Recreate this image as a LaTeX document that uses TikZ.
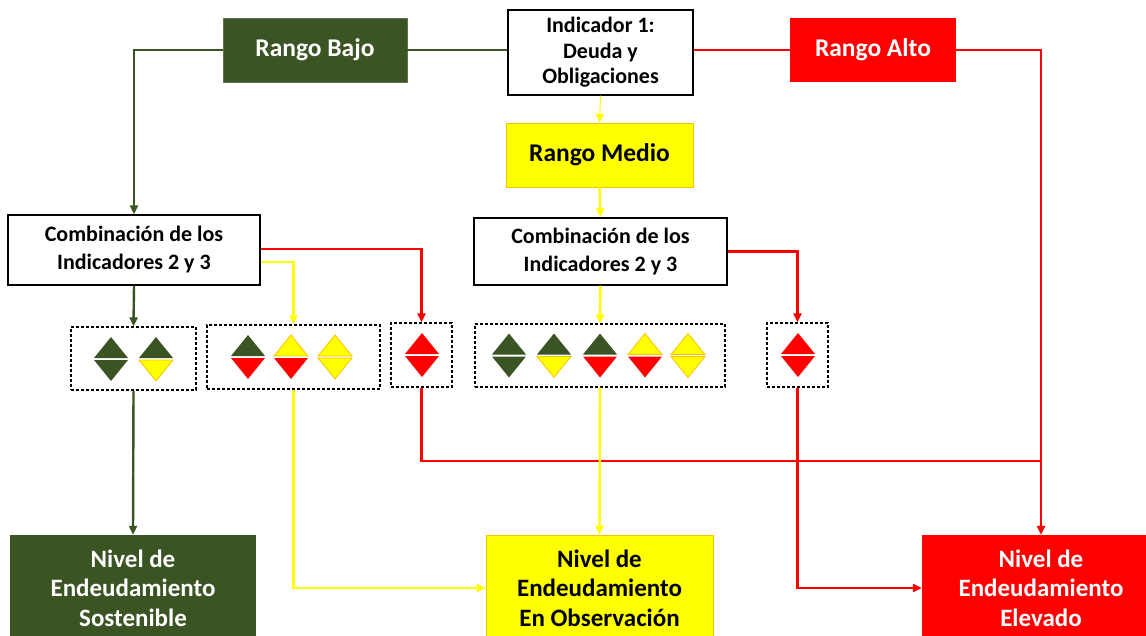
\documentclass[tikz,border=0pt]{standalone}
\usepackage{fontspec}
\setmainfont{Carlito}
\usetikzlibrary{arrows.meta}
\definecolor{verde}{RGB}{58,84,36}
\definecolor{rojo}{RGB}{255,0,0}
\definecolor{amarillo}{RGB}{255,255,0}
\definecolor{borde}{RGB}{255,192,0}
\begin{document}
\begin{tikzpicture}[
			x=1pt, y=-1pt,
			caja/.style={draw, line width=1.3pt, align=center, inner sep=0pt, text=black},
			rango/.style={align=center, inner sep=0pt, minimum height=64pt, font=\fontsize{25.5}{30}\selectfont\bfseries},
			nivel/.style={align=center, inner sep=0pt, minimum height=106pt, font=\fontsize{25}{29.5}\selectfont\bfseries},
			grupo/.style={draw, dashed, line width=1.2pt, dash pattern=on 3pt off 2pt, inner sep=0pt},
			flecha/.style={line width=2.4pt, -{Triangle[length=9pt,width=8pt]}},
			linea/.style={line width=2.4pt},
			triverde/.style={fill=verde},
			triamarillo/.style={fill=amarillo, draw=borde, line width=0.8pt},
			trirojo/.style={fill=rojo},
			pics/rombo/.style 2 args={code={
						\path[#1] (-17,-1) -- (17,-1) -- (0,-22) -- cycle;
						\path[#2] (-17,1) -- (17,1) -- (0,22) -- cycle;
					}}
		]
		\useasboundingbox (0,0) rectangle (1146,635);
		% primer nivel
		\node[caja, minimum width=185pt, minimum height=85pt, font=\fontsize{22}{25.5}\selectfont\bfseries] (ind) at (600.5,52.5) {Indicador 1:\\Deuda y\\Obligaciones};
		\node[rango, fill=verde, draw=verde!80!white, text=white, minimum width=184pt] (bajo) at (315,50) {Rango Bajo};
		\node[rango, fill=rojo, text=white, minimum width=166pt] (alto) at (873,50) {Rango Alto};
		\node[rango, fill=amarillo, draw=borde, minimum width=187pt] (medio) at (599.5,155) {Rango Medio};
		% combinaciones
		\node[caja, minimum width=252pt, minimum height=70pt, font=\fontsize{22}{28}\selectfont\bfseries] (comb1) at (134,250) {Combinación de los\\Indicadores 2 y 3};
		\node[caja, minimum width=253pt, minimum height=67pt, font=\fontsize{22}{28}\selectfont\bfseries] (comb2) at (600.5,251.5) {Combinación de los\\Indicadores 2 y 3};
		% grupos de rombos
		\node[grupo, minimum width=125pt, minimum height=63pt] (g1) at (133.5,358.5) {};
		\node[grupo, minimum width=173pt, minimum height=64pt] (g2) at (293.5,357) {};
		\node[grupo, minimum width=61pt, minimum height=64pt] (g3) at (421.5,355) {};
		\node[grupo, minimum width=250pt, minimum height=63pt] (g4) at (600,355.5) {};
		\node[grupo, minimum width=61pt, minimum height=64pt] (g5) at (797.5,355) {};
		\pic at (111,359) {rombo={triverde}{triverde}};
		\pic at (156,359) {rombo={triverde}{triamarillo}};
		\pic at (248,357) {rombo={triverde}{trirojo}};
		\pic at (291,357) {rombo={triamarillo}{trirojo}};
		\pic at (335,357) {rombo={triamarillo}{triamarillo}};
		\pic at (422,355) {rombo={trirojo}{trirojo}};
		\pic at (509,355.5) {rombo={triverde}{triverde}};
		\pic at (554,355.5) {rombo={triverde}{triamarillo}};
		\pic at (600,355.5) {rombo={triverde}{trirojo}};
		\pic at (645,355.5) {rombo={triamarillo}{trirojo}};
		\pic at (688,355.5) {rombo={triamarillo}{triamarillo}};
		\pic at (798,355) {rombo={trirojo}{trirojo}};
		% niveles
		\node[nivel, fill=verde, text=white, minimum width=246pt] (sost) at (133,588) {Nivel de\\Endeudamiento\\Sostenible};
		\node[nivel, fill=amarillo, draw=borde, minimum width=227pt] (obs) at (599.5,588) {Nivel de\\Endeudamiento\\En Observación};
		\node[nivel, fill=rojo, text=white, minimum width=238pt] (elev) at (1041,588) {Nivel de\\Endeudamiento\\Elevado};
		\coordinate (union) at (elev.north |- 0,461);
		% conectores
		\draw[linea, verde] (bajo.east) -- (bajo.east -| ind.west);
		\draw[flecha, verde] (bajo.west) -| (comb1.north);
		\draw[linea, rojo] (alto.west -| ind.east) -- (alto.west);
		\draw[flecha, rojo] (alto.east) -| (elev.north);
		\draw[flecha, amarillo, line width=1pt] (ind.south) -- (medio.north);
		\draw[flecha, amarillo] (medio.south) -- (comb2.north);
		\draw[flecha, rojo] ([yshift=1pt]comb1.east) -| (g3.north);
		\draw[flecha, amarillo] ([yshift=-12pt]comb1.east) -| (g2.north);
		\draw[flecha, verde] (comb1.south) -- (g1.north);
		\draw[flecha, rojo] (comb2.east) -| (g5.north);
		\draw[flecha, amarillo] (comb2.south) -- (g4.north);
		\draw[flecha, verde] (g1.south) -- (sost.north);
		\draw[flecha, amarillo] (g2.south) |- (obs.west);
		\draw[linea, rojo] (g3.south) |- (union);
		\draw[flecha, amarillo] (g4.south) -- (obs.north);
		\draw[flecha, rojo] (g5.south) |- (elev.west);
	\end{tikzpicture}
\end{document}
